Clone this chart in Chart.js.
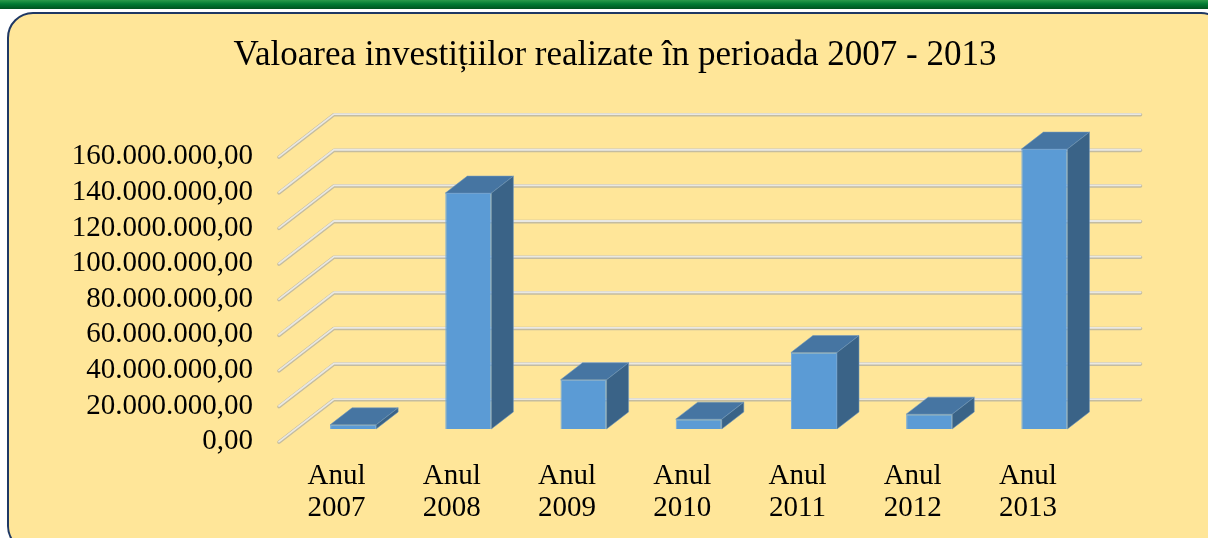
<!DOCTYPE html>
<html>
<head>
<meta charset="utf-8">
<script src="https://cdn.jsdelivr.net/npm/chart.js@4/dist/chart.umd.min.js"></script>
<style>
  html, body { margin: 0; padding: 0; background: #fff; overflow: hidden; }
  body { width: 1208px; height: 538px; position: relative; }
  #topbar {
    position: absolute; left: 0; top: 0; width: 1208px; height: 9px;
    background: linear-gradient(#2b9a4a, #007a33 45%, #00521f);
  }
  #panel {
    position: absolute; left: 7px; top: 12px; width: 1220px; height: 540px;
    box-sizing: border-box; border: 2px solid #1f3864; border-radius: 26px;
    background: #ffe699;
  }
  #chart { position: absolute; left: 0; top: 0; }
</style>
</head>
<body>
<div id="topbar"></div>
<div id="panel"></div>
<canvas id="chart" width="1208" height="538"></canvas>
<script>
// data
const categories = [['Anul', '2007'], ['Anul', '2008'], ['Anul', '2009'], ['Anul', '2010'],
                    ['Anul', '2011'], ['Anul', '2012'], ['Anul', '2013']];
const values = [2300000, 132400000, 27600000, 5500000, 42900000, 8300000, 157100000];
const yMax = 160000000;
const yStep = 20000000;

const FONT = '"Liberation Serif", "Times New Roman", serif';

// 3d geometry (px)
const WALL_X = 55, WALL_Y = 42.5;      // depth of the walls
const BAR_OFF = 0.3, BAR_DEPTH = 0.4;  // bar position inside the depth

function fmt(v) {
  const s = Math.round(v).toString().replace(/\B(?=(\d{3})+(?!\d))/g, '.');
  return s + ',00';
}

const threeD = {
  id: 'threeD',
  beforeDatasetsDraw(chart) {
    const ctx = chart.ctx;
    const y = chart.scales.y;
    const area = chart.chartArea;
    // walls / gridlines
    y.ticks.forEach(t => {
      const py = y.getPixelForValue(t.value);
      const pts = [[area.left, py], [area.left + WALL_X, py - WALL_Y], [area.right + WALL_X, py - WALL_Y]];
      const line = (dy, w, c) => {
        ctx.beginPath();
        ctx.moveTo(pts[0][0], pts[0][1] + dy);
        ctx.lineTo(pts[1][0], pts[1][1] + dy);
        ctx.lineTo(pts[2][0], pts[2][1] + dy);
        ctx.lineWidth = w;
        ctx.strokeStyle = c;
        ctx.lineCap = 'round';
        ctx.lineJoin = 'round';
        ctx.stroke();
      };
      ctx.save();
      line(0.5, 3.6, '#c4bca0');
      line(-0.1, 1.8, '#e9e8e3');
      ctx.restore();
    });
    ctx.save();
    ctx.translate(WALL_X * BAR_OFF, -WALL_Y * BAR_OFF);
  },
  afterDatasetsDraw(chart) {
    const ctx = chart.ctx;
    const dx = WALL_X * BAR_DEPTH, dy = WALL_Y * BAR_DEPTH;
    chart.getDatasetMeta(0).data.forEach(bar => {
      const l = bar.x - bar.width / 2, r = bar.x + bar.width / 2;
      const t = bar.y, b = bar.base;
      // top face
      ctx.beginPath();
      ctx.moveTo(l, t);
      ctx.lineTo(l + dx, t - dy);
      ctx.lineTo(r + dx, t - dy);
      ctx.lineTo(r, t);
      ctx.closePath();
      ctx.fillStyle = '#4675a2';
      ctx.fill();
      ctx.strokeStyle = 'rgba(110,150,190,0.7)';
      ctx.lineWidth = 0.8;
      ctx.stroke();
      // side face
      ctx.beginPath();
      ctx.moveTo(r, t);
      ctx.lineTo(r + dx, t - dy);
      ctx.lineTo(r + dx, b - dy);
      ctx.lineTo(r, b);
      ctx.closePath();
      ctx.fillStyle = '#3a6387';
      ctx.fill();
      ctx.stroke();
    });
    ctx.restore();
  }
};

new Chart(document.getElementById('chart'), {
  type: 'bar',
  data: {
    labels: categories,
    datasets: [{
      data: values,
      backgroundColor: '#5b9bd5',
      borderColor: '#74a9da',
      borderWidth: 1,
      barPercentage: 0.4,
      categoryPercentage: 1
    }]
  },
  options: {
    responsive: false,
    animation: false,
    devicePixelRatio: 1,
    layout: { padding: { left: 22, right: 0, top: 0, bottom: 0 } },
    plugins: {
      legend: { display: false },
      tooltip: { enabled: false },
      title: {
        display: true,
        text: 'Valoarea investițiilor realizate în perioada 2007 - 2013',
        color: '#000',
        font: { family: FONT, size: 35, weight: 'normal', lineHeight: 1.2 },
        padding: { top: 35, bottom: 79.7 }
      }
    },
    scales: {
      x: {
        grid: { display: false },
        border: { display: false },
        ticks: {
          color: '#000',
          padding: 10.3,
          maxRotation: 0,
          autoSkip: false,
          font: { family: FONT, size: 29, lineHeight: 32 / 29 }
        },
        afterFit(scale) { scale.height = 96.3; }
      },
      y: {
        min: 0,
        max: yMax,
        grid: { display: false, drawTicks: false },
        border: { display: false },
        ticks: {
          stepSize: yStep,
          autoSkip: false,
          color: '#000',
          padding: 26,
          font: { family: FONT, size: 29 },
          callback: v => fmt(v)
        },
        afterFit(scale) { scale.width = 257; }
      },
      // empty right-hand axis that only reserves the space right of the plot
      yRight: {
        position: 'right',
        grid: { display: false },
        border: { display: false },
        ticks: { display: false },
        afterFit(scale) { scale.width = 122.5; }
      }
    }
  },
  plugins: [threeD]
});
</script>
</body>
</html>
